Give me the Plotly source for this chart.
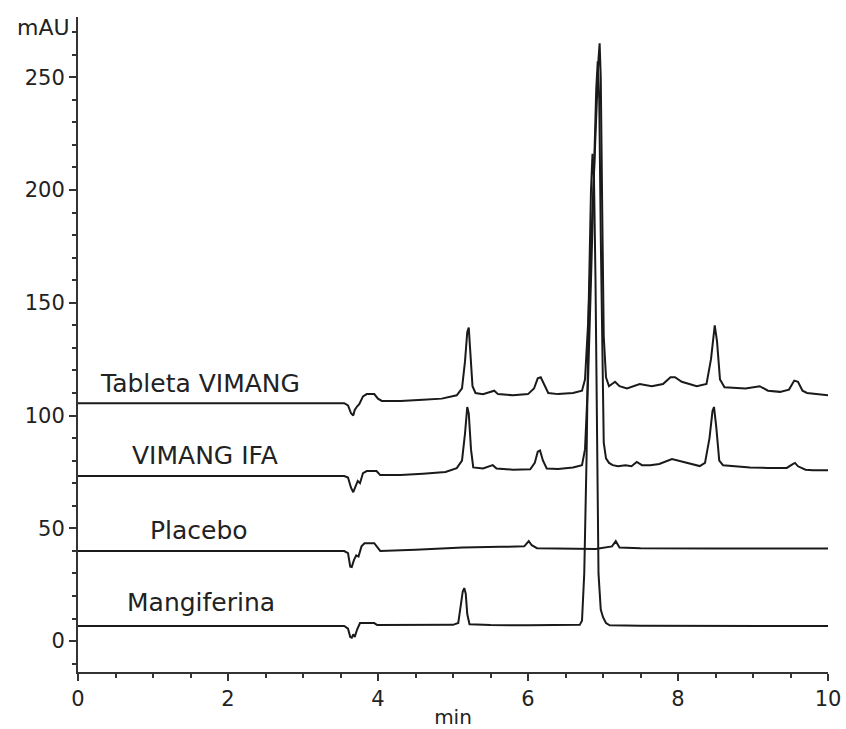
import plotly.graph_objects as go

# ---- data (time in min, signal in mAU) ----
tableta_t = [0, 3.55, 3.6, 3.64, 3.67, 3.69, 3.72, 3.75, 3.8, 3.85, 3.95, 4.0, 4.05, 4.3, 4.6, 4.85,
             5.05, 5.12, 5.16, 5.19, 5.21, 5.23, 5.26, 5.3, 5.4, 5.55, 5.6, 5.8, 6.0, 6.08, 6.13, 6.17,
             6.21, 6.27, 6.4, 6.6, 6.72, 6.76, 6.8, 6.84, 6.88, 6.92, 6.94, 6.955, 6.97, 6.99, 7.01,
             7.04, 7.08, 7.12, 7.16, 7.22, 7.32, 7.49, 7.65, 7.8, 7.9, 7.96, 8.05, 8.25, 8.38, 8.44,
             8.47, 8.49, 8.52, 8.56, 8.62, 8.9, 9.09, 9.2, 9.36, 9.48, 9.55, 9.6, 9.66, 9.72, 10]
tableta_y = [105.5, 105.5, 104.5, 101, 100, 102.5, 104, 105, 108.5, 109.5, 109.5, 107.5, 106.5, 106.5, 107, 107.5,
             109, 112, 124, 137, 139, 130, 113, 110, 109.5, 111, 109.5, 109, 109.5, 112, 116.5, 117,
             114, 110, 109.5, 110, 111, 116, 140, 175, 210, 240, 258, 265, 250, 190, 135,
             117, 113, 114, 115, 113, 112, 114, 113, 114, 117, 117, 115, 113, 114, 125,
             136, 140, 133, 116, 112.5, 112, 113, 111, 110.5, 111.5, 115.5, 115, 111, 110, 109]

ifa_t = [0, 3.55, 3.6, 3.64, 3.67, 3.7, 3.73, 3.76, 3.8, 3.85, 3.98, 4.03, 4.3, 4.6, 4.9, 5.05, 5.12,
         5.16, 5.19, 5.21, 5.24, 5.27, 5.4, 5.53, 5.58, 5.8, 6.03, 6.09, 6.13, 6.16, 6.2, 6.25, 6.4,
         6.6, 6.69, 6.72, 6.76, 6.8, 6.84, 6.88, 6.91, 6.93, 6.95, 6.97, 6.99, 7.01, 7.04, 7.08, 7.13,
         7.2, 7.3, 7.38, 7.45, 7.52, 7.63, 7.75, 7.92, 8.0, 8.15, 8.29, 8.36, 8.42, 8.46, 8.48, 8.51,
         8.55, 8.6, 8.96, 9.2, 9.45, 9.53, 9.56, 9.6, 9.7, 9.8, 10]
ifa_y = [73.2, 73.2, 72.5, 68, 66, 68.5, 71, 70, 74.5, 75.4, 75.4, 73.6, 73.6, 74.2, 75, 76.7, 80,
         92, 103.8, 101, 85, 77, 76.5, 78, 76.5, 76, 76.2, 79, 84, 84.5, 80, 76.5, 76.3,
         77, 77.6, 78, 85, 115, 160, 210, 245, 257, 240, 180, 120, 88, 81, 79, 78,
         77.5, 78, 77.5, 79.4, 78, 78, 78.5, 80.7, 80, 78.5, 77.6, 79, 90, 102, 103.8, 95,
         80, 78, 77, 76.8, 76.8, 78.5, 79, 77.5, 76, 75.8, 75.8]

placebo_t = [0, 3.55, 3.6, 3.63, 3.65, 3.68, 3.71, 3.74, 3.78, 3.82, 3.95, 4.0, 4.03, 4.5, 5.13, 5.63,
             5.95, 6.01, 6.05, 6.12, 6.6, 6.9, 7.12, 7.17, 7.22, 7.5, 8.5, 10]
placebo_y = [39.9, 39.9, 39, 33, 32.8, 36, 38, 37.5, 42, 43.4, 43.4, 41.5, 40, 40.5, 41.5, 41.8,
             42, 44.3, 42.5, 41.2, 41, 40.8, 42, 44.3, 41.5, 41.2, 41, 41]

mangif_t = [0, 3.55, 3.6, 3.63, 3.65, 3.67, 3.69, 3.72, 3.76, 3.95, 3.99, 4.5, 5.0, 5.07, 5.1, 5.13,
            5.15, 5.17, 5.19, 5.22, 5.5, 6.0, 6.69, 6.72, 6.75, 6.78, 6.81, 6.84, 6.86, 6.88, 6.9,
            6.92, 6.94, 6.97, 7.0, 7.04, 7.09, 7.5, 10]
mangif_y = [6.7, 6.7, 5.5, 1.8, 1.5, 3, 1.8, 5, 8, 8, 7.1, 7.1, 7.2, 8, 14, 22,
            23.5, 21, 12, 7.5, 7.1, 7.0, 7.2, 9, 30, 80, 150, 200, 216, 205, 160,
            90, 30, 14, 10.6, 8, 7, 6.8, 6.7]

series_names = ["Tableta VIMANG", "VIMANG IFA", "Placebo", "Mangiferina"]
label_x = [0.27, 0.69, 0.93, 0.63]
label_y = [114.4, 82.5, 49.2, 16.9]

x_ticks = [0, 2, 4, 6, 8, 10]
y_ticks = [0, 50, 100, 150, 200, 250]

LINE = "#1a1a1a"
FONT = "DejaVu Sans"

fig = go.Figure()
for t, y, n in [(tableta_t, tableta_y, series_names[0]), (ifa_t, ifa_y, series_names[1]),
                (placebo_t, placebo_y, series_names[2]), (mangif_t, mangif_y, series_names[3])]:
    fig.add_trace(go.Scatter(x=t, y=y, mode="lines", name=n,
                             line=dict(color=LINE, width=2), showlegend=False))

for n, lx, ly in zip(series_names, label_x, label_y):
    fig.add_annotation(x=lx, y=ly, text=n, showarrow=False, xanchor="left", yanchor="middle",
                       font=dict(family=FONT, size=25, color="#222"))

fig.add_annotation(xref="paper", x=0, y=272, yref="y", text="mAU", showarrow=False,
                   xanchor="right", yanchor="middle", xshift=-6,
                   font=dict(family=FONT, size=22, color="#222"))

fig.update_layout(
    width=846, height=729,
    margin=dict(l=78, r=18, t=17, b=57, autoexpand=False),
    paper_bgcolor="white", plot_bgcolor="white",
    font=dict(family=FONT, size=21, color="#222"),
    xaxis=dict(range=[0, 10], tickvals=x_ticks, ticktext=[str(v) for v in x_ticks],
               automargin=False,
               showgrid=False, zeroline=False, showline=True, linecolor="#333", linewidth=2,
               ticks="outside", ticklen=7, tickwidth=2, tickcolor="#333",
               minor=dict(dtick=0.5, ticks="outside", ticklen=4, tickwidth=2, tickcolor="#333"),
               title=dict(text="min", standoff=2, font=dict(family=FONT, size=20)),
               tickfont=dict(family=FONT, size=21)),
    yaxis=dict(range=[-13.7, 276.7], tickvals=y_ticks, ticktext=[str(v) for v in y_ticks],
               automargin=False,
               showgrid=False, zeroline=False, showline=True, linecolor="#333", linewidth=2,
               ticks="outside", ticklen=7, tickwidth=2, tickcolor="#333",
               minor=dict(dtick=10, ticks="outside", ticklen=4, tickwidth=2, tickcolor="#333"),
               tickfont=dict(family=FONT, size=21)),
)

fig.write_html("out.html", config={"displayModeBar": False},
               post_script="document.body.style.margin='0';document.body.style.overflow='hidden';")
